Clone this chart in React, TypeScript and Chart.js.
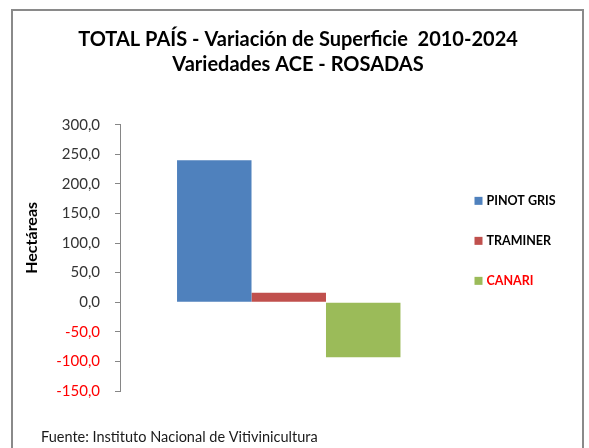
import React, { useEffect, useRef } from 'react';
import { Chart, registerables } from 'chart.js';

Chart.register(...registerables);

const categories = ['Variedades ACE - ROSADAS'];
const seriesNames = ['PINOT GRIS', 'TRAMINER', 'CANARI'];
const pinotGris = [240.0];
const traminer = [16.0];
const canari = [-93.0];
const seriesValues = [pinotGris, traminer, canari];
const seriesColors = ['#4f81bd', '#c0504d', '#9bbb59'];
const legendTextColors = ['#000000', '#000000', '#ff0000'];
const yTicks = [-150, -100, -50, 0, 50, 100, 150, 200, 250, 300];
const titleLines = ['TOTAL PAÍS - Variación de Superficie  2010-2024', 'Variedades ACE - ROSADAS'];
const yAxisTitle = 'Hectáreas';
const sourceNote = 'Fuente: Instituto Nacional de Vitivinicultura';

const FONT = "Lato, 'Open Sans', sans-serif";

const decorPlugin = {
  id: 'decor',
  beforeDraw(chart: any) {
    const { ctx, width, height } = chart;
    ctx.save();
    ctx.fillStyle = '#ffffff';
    ctx.fillRect(0, 0, width, height);
    ctx.strokeStyle = '#8a8a8a';
    ctx.lineWidth = 2;
    ctx.strokeRect(12, 10, 571, height + 20);
    ctx.restore();
  },
  afterDraw(chart: any) {
    const { ctx } = chart;
    const ca = chart.chartArea;
    const mid = (ca.top + ca.bottom) / 2;
    ctx.save();
    // legend
    const x0 = ca.right + 17;
    chart.data.datasets.forEach((ds: any, i: number) => {
      const yc = mid - 17 + (i - 1) * 40;
      ctx.fillStyle = ds.backgroundColor;
      ctx.fillRect(x0, yc - 4, 8, 8);
      ctx.fillStyle = legendTextColors[i];
      ctx.font = `bold 12.5px ${FONT}`;
      ctx.textAlign = 'left';
      ctx.textBaseline = 'middle';
      ctx.fillText(ds.label, x0 + 12, yc);
    });
    // y axis title
    ctx.save();
    ctx.translate(31.5, mid - 20);
    ctx.rotate(-Math.PI / 2);
    ctx.fillStyle = '#000000';
    ctx.font = `bold 16px ${FONT}`;
    ctx.textAlign = 'center';
    ctx.textBaseline = 'middle';
    ctx.fillText(yAxisTitle, 0, 0);
    ctx.restore();
    // source
    ctx.fillStyle = '#1a1a1a';
    ctx.font = `14.5px ${FONT}`;
    ctx.textAlign = 'left';
    ctx.textBaseline = 'middle';
    ctx.fillText(sourceNote, 41, ca.bottom + 46);
    ctx.restore();
  },
};

export default function App() {
  const ref = useRef<HTMLCanvasElement | null>(null);
  useEffect(() => {
    document.body.style.margin = '0';
    const canvas = ref.current;
    if (!canvas) return;
    const chart = new Chart(canvas, {
      type: 'bar',
      data: {
        labels: categories,
        datasets: seriesNames.map((name, i) => ({
          label: name,
          data: seriesValues[i],
          backgroundColor: seriesColors[i],
          borderWidth: 0,
          categoryPercentage: 0.662,
          barPercentage: 1,
        })),
      },
      options: {
        animation: false,
        responsive: false,
        maintainAspectRatio: false,
        layout: { padding: { left: 7, right: 0, top: 0, bottom: 57 } },
        plugins: {
          legend: { display: false },
          tooltip: { enabled: false },
          title: {
            display: true,
            text: titleLines,
            color: '#000000',
            font: { family: FONT, size: 20, weight: 'bold', lineHeight: 25 / 20 },
            padding: { top: 27.5, bottom: 47.2 },
          },
        },
        scales: {
          x: { display: false },
          y: {
            min: -150,
            max: 300,
            afterBuildTicks: (s: any) => {
              s.ticks = yTicks.map((v) => ({ value: v }));
            },
            afterFit: (s: any) => {
              s.width = 113;
            },
            ticks: {
              padding: 15,
              color: (c: any) => (c.tick && c.tick.value < 0 ? '#ff0000' : '#333333'),
              font: { family: FONT, size: 15 },
              callback: (v: any) => Number(v).toFixed(1).replace('.', ','),
            },
            grid: { display: true, drawOnChartArea: false, drawTicks: true, tickLength: 5, color: '#868686' },
            border: { display: true, color: '#868686', width: 1 },
          },
          reserve: {
            type: 'linear',
            position: 'right',
            display: true,
            ticks: { display: false },
            grid: { display: false },
            border: { display: false },
            afterFit: (s: any) => {
              s.width = 131.5;
            },
          },
        },
      },
      plugins: [decorPlugin],
    } as any);
    return () => chart.destroy();
  }, []);
  return <canvas ref={ref} width={589} height={448} style={{ display: 'block' }} />;
}
